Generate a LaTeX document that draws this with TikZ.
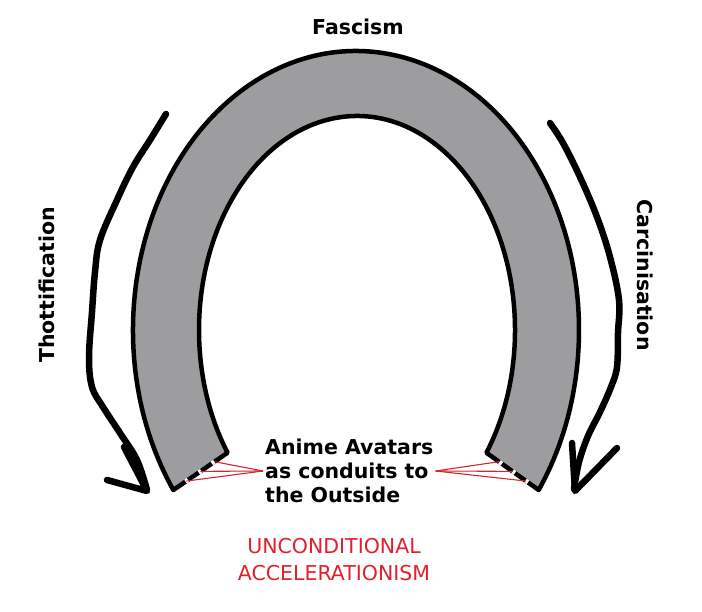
\documentclass[tikz,border=0pt]{standalone}
\usepackage{fontspec}
\setmainfont{DejaVu Sans}
\usepackage{xcolor}
\usepackage{tikz}
\usetikzlibrary{calc, positioning}

\definecolor{shoegray}{RGB}{157,157,160}
\definecolor{acclred}{RGB}{226,32,44}
\definecolor{feedred}{RGB}{205,40,50}

\begin{document}
\begin{tikzpicture}[
  x=1pt, y=1pt,
  rim/.style={draw=black, line width=4.5pt, line join=round},
  scrawl/.style={draw=black, line width=6.5pt, line cap=round, line join=round},
  lbl/.style={font=\bfseries\fontsize{20.5}{24}\selectfont, inner sep=0pt, align=left},
  redlbl/.style={font=\fontsize{20.5}{27}\selectfont, text=acclred, inner sep=0pt, align=center},
  feed/.style={draw=feedred, line width=1.1pt},
]
\useasboundingbox (0,0) rectangle (702,612);

%% ---- horseshoe ----
\coordinate (oc) at (356,282);
\coordinate (ic) at (357,282);
\coordinate (olc) at ([shift={(215:223pt and 279pt)}]oc);
\coordinate (orc) at ([shift={(-35:223pt and 279pt)}]oc);
\coordinate (ilc) at ([shift={(215:158pt and 214pt)}]ic);
\coordinate (irc) at ([shift={(-35:158pt and 214pt)}]ic);

\draw[rim, fill=shoegray] (olc) arc[start angle=215, end angle=-35, x radius=223pt, y radius=279pt]
  -- (irc) arc[start angle=-35, end angle=215, x radius=158pt, y radius=214pt] -- cycle;
% broken ends
\draw[white, line width=4.5pt, dash pattern=on 0pt off 16pt on 3pt off 13pt on 3pt off 13pt on 3pt off 40pt]
  (ilc) -- (olc);
\draw[white, line width=4.5pt, dash pattern=on 0pt off 16pt on 3pt off 13pt on 3pt off 13pt on 3pt off 40pt]
  (irc) -- (orc);

%% ---- labels ----
\node[lbl] (fascism) at (358,585) {Fascism};
\node[lbl, rotate=90] (thott) at (47,327) {Thottification};
\node[lbl, rotate=-90] (carc) at (645,337) {Carcinisation};
\node[lbl, anchor=west] (avatars) at (265,141) {Anime Avatars\\as conduits to\\the Outside};
\node[redlbl] (accel) at (334,52) {UNCONDITIONAL\\ACCELERATIONISM};

%% ---- conduits ----
\foreach \s [count=\i] in {0.24,0.5,0.76} {
  \coordinate (lp\i) at ($(ilc)!\s!(olc)$);
  \coordinate (rp\i) at ($(irc)!\s!(orc)$);
  \draw[feed] ([xshift=-2pt]avatars.west) -- (lp\i);
  \draw[feed] ([xshift=2pt]avatars.east) -- (rp\i);
}

%% ---- scrawled arrows ----
\draw[scrawl] plot[smooth, tension=0.6] coordinates {(166,498) (150,472) (133,445) (117,412)
  (100,372) (95,340) (92,300) (89,255) (92,225) (103,205) (120,179) (137,152) (147,122)};
\draw[scrawl] (107,132) -- (147,121) -- (124,165);

\draw[scrawl] plot[smooth, tension=0.6] coordinates {(550,489) (563,469) (580,435) (597,395)
  (610,355) (619,312) (618,279) (617,245) (611,225) (600,200) (588,176) (579,150) (574,123)};
\draw[scrawl] (617,164) -- (575,121) -- (572,169);

\end{tikzpicture}
\end{document}
